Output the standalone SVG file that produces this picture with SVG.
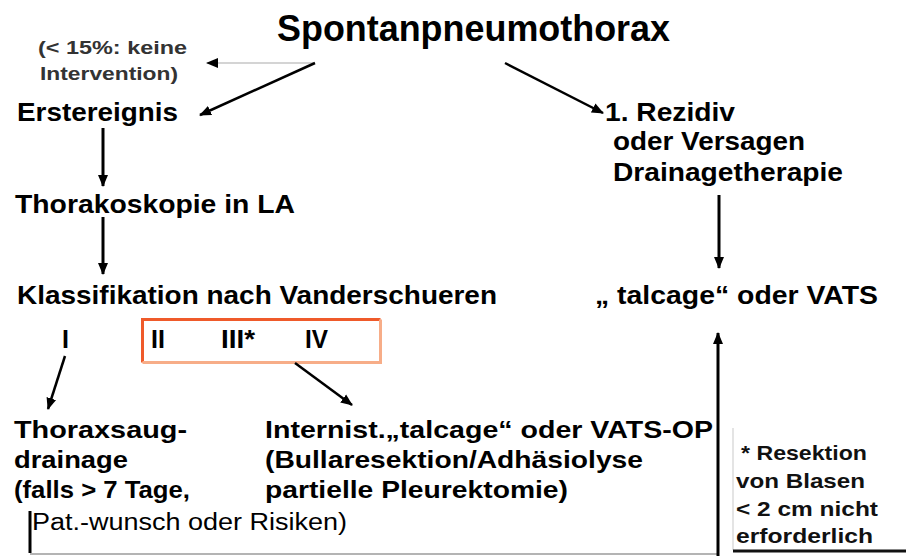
<svg xmlns="http://www.w3.org/2000/svg" width="906" height="556" viewBox="0 0 906 556">
<style>
text{font-family:"Liberation Sans",Arial,sans-serif;fill:#000}
.t{font-size:36px;font-weight:bold}
.m{font-size:25px;font-weight:bold}
.s{font-size:24px;font-weight:bold}
.n{font-size:23px;font-weight:normal}
.a{font-size:18px;font-weight:bold;fill:#333}
.f{font-size:21px;font-weight:bold;fill:#111}
.c{fill:none;stroke:#000;stroke-width:3}
.d{fill:none;stroke:#000;stroke-width:2.5}
</style>
<defs>
<marker id="ah" markerUnits="userSpaceOnUse" markerWidth="12" markerHeight="12" refX="11" refY="6" orient="auto">
<path d="M0,1 L12,6 L0,11 z" fill="#000"/>
</marker>
</defs>
<rect width="906" height="556" fill="#fff"/>
<g id="title"><text class="t" x="277" y="41" textLength="393" lengthAdjust="spacingAndGlyphs">Spontanpneumothorax</text></g>
<g id="note-keine"><text class="a" x="38" y="54" textLength="149" lengthAdjust="spacingAndGlyphs">(&lt; 15%: keine</text><text class="a" x="40" y="80" textLength="138" lengthAdjust="spacingAndGlyphs">Intervention)</text></g>
<g id="erstereignis"><text class="m" x="17" y="121" textLength="161" lengthAdjust="spacingAndGlyphs">Erstereignis</text></g>
<g id="thorakoskopie"><text class="m" x="15" y="213" textLength="280" lengthAdjust="spacingAndGlyphs">Thorakoskopie in LA</text></g>
<g id="klassifikation"><text class="m" x="17" y="304" textLength="480" lengthAdjust="spacingAndGlyphs">Klassifikation nach Vanderschueren</text></g>
<g id="grad-i"><text class="m" x="62" y="348">I</text></g>
<g id="grad-ii-iv"><path d="M142.5,362.5 V319.5 H380.5" fill="none" stroke="#ef5a2a" stroke-width="3"/><path d="M380.5,319.5 V362.5 H142.5" fill="none" stroke="#f7ad88" stroke-width="3"/><text class="m" x="151" y="348">II</text><text class="m" x="221" y="348" textLength="34" lengthAdjust="spacingAndGlyphs">III*</text><text class="m" x="305" y="348" textLength="23" lengthAdjust="spacingAndGlyphs">IV</text></g>
<g id="rezidiv"><text class="m" x="605" y="121" textLength="130" lengthAdjust="spacingAndGlyphs">1. Rezidiv</text><text class="m" x="613" y="150" textLength="192" lengthAdjust="spacingAndGlyphs">oder Versagen</text><text class="m" x="613" y="181" textLength="230" lengthAdjust="spacingAndGlyphs">Drainagetherapie</text></g>
<g id="talcage-vats"><text class="m" x="595" y="304" textLength="283" lengthAdjust="spacingAndGlyphs">„ talcage“ oder VATS</text></g>
<g id="thoraxsaugdrainage"><text class="s" x="14" y="438" textLength="173" lengthAdjust="spacingAndGlyphs">Thoraxsaug-</text><text class="s" x="14" y="468" textLength="114" lengthAdjust="spacingAndGlyphs">drainage</text><text class="s" x="14" y="498" textLength="176" lengthAdjust="spacingAndGlyphs">(falls &gt; 7 Tage,</text><text class="n" x="32" y="530" textLength="315" lengthAdjust="spacingAndGlyphs">Pat.-wunsch oder Risiken)</text></g>
<g id="internist"><text class="s" x="265" y="438" textLength="448" lengthAdjust="spacingAndGlyphs">Internist.„talcage“ oder VATS-OP</text><text class="s" x="265" y="468" textLength="378" lengthAdjust="spacingAndGlyphs">(Bullaresektion/Adhäsiolyse</text><text class="s" x="265" y="498" textLength="303" lengthAdjust="spacingAndGlyphs">partielle Pleurektomie)</text></g>
<g id="footnote"><line x1="733" y1="428" x2="733" y2="550" stroke="#e4e4e4" stroke-width="2"/><line x1="733" y1="551" x2="906" y2="551" stroke="#111" stroke-width="3"/><text class="f" x="741" y="460" textLength="126" lengthAdjust="spacingAndGlyphs">* Resektion</text><text class="f" x="736" y="488" textLength="129" lengthAdjust="spacingAndGlyphs">von Blasen</text><text class="f" x="736" y="516" textLength="142" lengthAdjust="spacingAndGlyphs">&lt; 2 cm nicht</text><text class="f" x="736" y="543" textLength="137" lengthAdjust="spacingAndGlyphs">erforderlich</text></g>
<g id="connectors">
<line x1="313" y1="63" x2="207" y2="63" stroke="#d4d4d4" stroke-width="2" marker-end="url(#ah)"/>
<line class="d" x1="315" y1="63" x2="200" y2="115" marker-end="url(#ah)"/>
<line class="d" x1="505" y1="63" x2="603" y2="113" marker-end="url(#ah)"/>
<line class="c" x1="103" y1="128" x2="103" y2="186" marker-end="url(#ah)"/>
<line class="c" x1="103" y1="217" x2="103" y2="274" marker-end="url(#ah)"/>
<line class="c" x1="719" y1="195" x2="719" y2="268" marker-end="url(#ah)"/>
<line class="d" x1="65" y1="356" x2="48" y2="409" marker-end="url(#ah)"/>
<line class="d" x1="295" y1="363" x2="352" y2="405" marker-end="url(#ah)"/>
<path class="c" d="M30,511 V553"/>
<line x1="30" y1="554" x2="718" y2="554" stroke="#b4b4b4" stroke-width="2"/>
<line class="c" x1="718" y1="556" x2="718" y2="333" marker-end="url(#ah)"/>
</g>
</svg>
